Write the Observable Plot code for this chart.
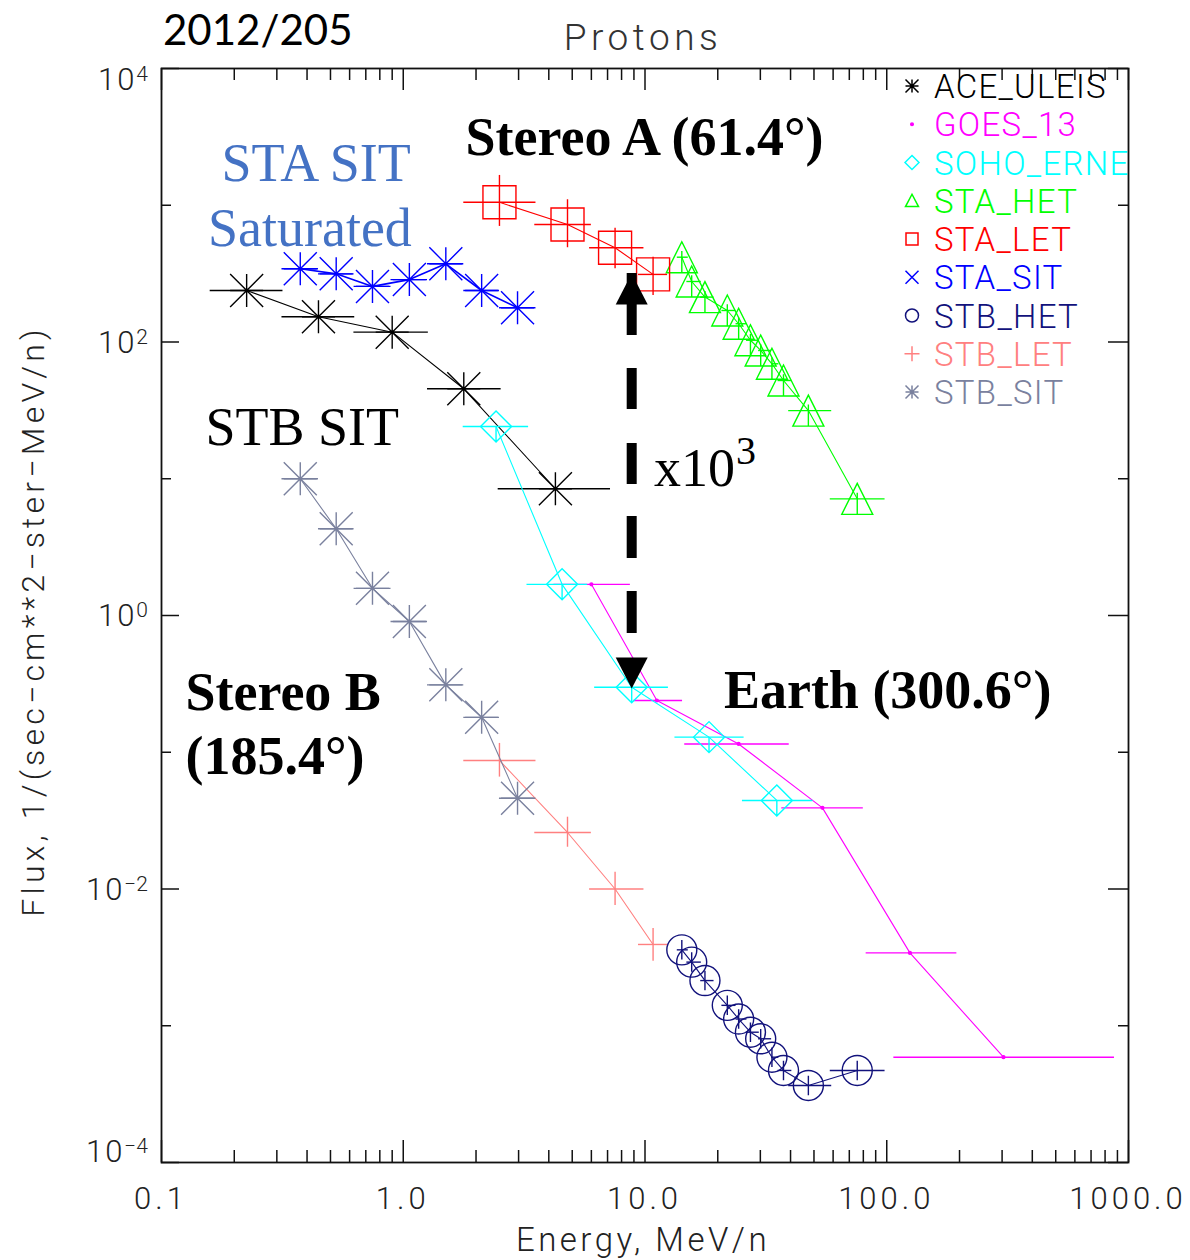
<!DOCTYPE html>
<html><head><meta charset="utf-8">
<script src="https://cdn.jsdelivr.net/npm/d3@7"></script>
<script src="https://cdn.jsdelivr.net/npm/@observablehq/plot@0.6"></script>
<style>body{margin:0;background:#fff} svg{display:block}</style>
</head><body><div id="chart"></div>
<script>
// ---------- data ----------
const seriesNames  = ["ACE_ULEIS","GOES_13","SOHO_ERNE","STA_HET","STA_LET","STA_SIT","STB_HET","STB_LET","STB_SIT"];
const seriesColors = ["#000000","#ff00ff","#00ffff","#00ff00","#ff0000","#0000ff","#12127c","#ff8080","#7a819e"];

// ACE ULEIS
const aceEnergy = [0.225, 0.446, 0.90, 1.78, 4.26];
const aceLo     = [0.159, 0.315, 0.625, 1.26, 2.47];
const aceHi     = [0.318, 0.63, 1.27, 2.54, 7.2];
const aceFlux   = [238, 153, 118, 45.5, 8.45];

// GOES 13
const goesEnergy = [6.0, 11.2, 24.4, 54.2, 124.7, 304];
const goesLo     = [4.2, 9.0, 14.6, 36.8, 82.2, 107];
const goesHi     = [8.7, 14.3, 39.5, 80, 195, 875];
const goesFlux   = [1.69, 0.239, 0.115, 0.0392, 0.00341, 0.000589];

// SOHO ERNE
const erneEnergy = [2.42, 4.54, 8.81, 18.4, 35.1];
const erneLo     = [1.77, 3.25, 6.19, 13.3, 25.3];
const erneHi     = [3.30, 5.79, 12.5, 25.7, 49.5];
const erneFlux   = [24.1, 1.69, 0.299, 0.129, 0.0444];

// STEREO HET energy bins (A and B)
const hetEnergy = [14.2, 15.6, 17.7, 21.9, 24.4, 27.3, 30.1, 33.5, 37.4, 47.4, 75.5];
const hetLo     = [13.6, 14.9, 17.0, 20.8, 23.8, 26.3, 29.5, 33.4, 35.5, 39.3, 58.4];
const hetHi     = [15.1, 17.1, 19.3, 23.8, 26.4, 29.7, 33.4, 35.8, 40.5, 59.2, 98.4];
const staHetFlux = [417, 277, 213, 170, 136, 103, 86.7, 69.3, 52.3, 31.5, 7.13];
const stbHetFlux = [0.00359, 0.00292, 0.00214, 0.00141, 0.00112, 0.000897, 0.000803, 0.000589, 0.000471, 0.000366, 0.000471];

// STEREO LET energy bins
const letEnergy = [2.50, 4.78, 7.52, 10.8];
const letLo     = [1.78, 3.5, 5.9, 9.4];
const letHi     = [3.54, 6.0, 9.9, 12.4];
const staLetFlux   = [1051, 723, 489, 312];
const staLetFluxLo = [700, 489, 343, 219];
const staLetFluxHi = [1652, 1097, 679, 417];
const stbLetFlux   = [0.0871, 0.0259, 0.0100, 0.00393];
const stbLetFluxLo = [0.0658, 0.0202, 0.00757, 0.00296];
const stbLetFluxHi = [0.116, 0.0335, 0.01327, 0.00514];

// STEREO SIT energy bins
const sitEnergy = [0.375, 0.528, 0.746, 1.06, 1.50, 2.11, 2.97];
const sitLo     = [0.315, 0.446, 0.626, 0.89, 1.26, 1.78, 2.50];
const sitHi     = [0.446, 0.626, 0.89, 1.26, 1.78, 2.50, 3.54];
const staSitFlux = [343, 315, 255, 286, 373, 238, 178];
const stbSitFlux = [10.0, 4.31, 1.58, 0.904, 0.311, 0.180, 0.0461];

// axis tick values / labels
const xLabelValues = [0.1, 1, 10, 100, 1000];
const xLabelTexts  = ["0.1", "1.0", "10.0", "100.0", "1000.0"];
const yLabelValues = [1e4, 1e2, 1, 1e-2, 1e-4];
const yLabelExps   = ["4", "2", "0", "\u22122", "\u22124"];
const yMinorValues = [1e3, 1e1, 1e-1, 1e-3];

// annotations (data coordinates)
const boldNotes  = [
  {text: "Stereo A (61.4°)", x: 1.81, y: 3130},
  {text: "Earth (300.6°)",   x: 21.2, y: 0.283},
  {text: "Stereo B",         x: 0.1256, y: 0.273},
  {text: "(185.4°)",         x: 0.1256, y: 0.0931}
];
const plainNotes = [
  {text: "STB SIT", x: 0.152, y: 23.7},
  {text: "x10",     x: 10.9,  y: 11.9}
];
const supNotes   = [{text: "3", x: 10.9, y: 11.9}];
const blueNotes  = [
  {text: "STA SIT",   x: 0.436, y: 2020},
  {text: "Saturated", x: 0.411, y: 676}
];
const arrowNote = [{x: 8.81, from: 317, to: 0.292}];

// ---------- symbols ----------
const R = s => Math.sqrt(s / Math.PI);
const symAsterisk = {draw(c, s){const r=R(s); c.moveTo(0,-r);c.lineTo(0,r);c.moveTo(-r,0);c.lineTo(r,0);c.moveTo(-r,-r);c.lineTo(r,r);c.moveTo(-r,r);c.lineTo(r,-r);}};
const symCross = {draw(c, s){const r=R(s); c.moveTo(-r,-r);c.lineTo(r,r);c.moveTo(-r,r);c.lineTo(r,-r);}};
const symPlus = {draw(c, s){const r=R(s); c.moveTo(0,-r);c.lineTo(0,r);c.moveTo(-r,0);c.lineTo(r,0);}};
const symSquare = {draw(c, s){const r=R(s); c.moveTo(-r,-r);c.lineTo(r,-r);c.lineTo(r,r);c.lineTo(-r,r);c.closePath();}};
const symDiamond = {draw(c, s){const r=R(s); c.moveTo(0,-r);c.lineTo(r,0);c.lineTo(0,r);c.lineTo(-r,0);c.closePath(); c.moveTo(0,0);c.lineTo(0,r);}};
const symDiamondL = {draw(c, s){const r=R(s); c.moveTo(0,-r);c.lineTo(r,0);c.lineTo(0,r);c.lineTo(-r,0);c.closePath();}};
const symTriangle = {draw(c, s){const r=R(s); c.moveTo(0,-r);c.lineTo(r,r);c.lineTo(-r,r);c.closePath(); c.moveTo(0,-0.4*r);c.lineTo(0,r);}};
const symTriangleL = {draw(c, s){const r=R(s); c.moveTo(0,-r);c.lineTo(r,r*0.9);c.lineTo(-r,r*0.9);c.closePath();}};
const symCircle = {draw(c, s){const r=R(s); c.moveTo(r,0);c.arc(0,0,r,0,2*Math.PI); c.moveTo(0,-0.65*r);c.lineTo(0,0.65*r);}};
const symCircleL = {draw(c, s){const r=R(s); c.moveTo(r,0);c.arc(0,0,r,0,2*Math.PI);}};
const symDot = {draw(c, s){const r=R(s); c.moveTo(r,0);c.arc(0,0,r,0,2*Math.PI);}};
const symArrowUp = {draw(c, s){c.moveTo(0,0);c.lineTo(16,31);c.lineTo(-16,31);c.closePath();}};
const symArrowDown = {draw(c, s){c.moveTo(0,0);c.lineTo(16,-31);c.lineTo(-16,-31);c.closePath();}};

function rows(energy, flux, lo, hi, fLo, fHi) {
  return energy.map((e, i) => ({energy: e, flux: flux[i], lo: lo[i], hi: hi[i],
    fLo: fLo ? fLo[i] : null, fHi: fHi ? fHi[i] : null}));
}

const series = [
  {data: rows(aceEnergy, aceFlux, aceLo, aceHi), sym: symAsterisk, r: 16.5, lsym: symAsterisk, lr: 6.5},
  {data: rows(goesEnergy, goesFlux, goesLo, goesHi), sym: symDot, r: 1.4, fill: true, lsym: symDot, lr: 1.3},
  {data: rows(erneEnergy, erneFlux, erneLo, erneHi), sym: symDiamond, r: 15.5, lsym: symDiamondL, lr: 7},
  {data: rows(hetEnergy, staHetFlux, hetLo, hetHi), sym: symTriangle, r: 15.5, lsym: symTriangleL, lr: 6.5},
  {data: rows(letEnergy, staLetFlux, letLo, letHi, staLetFluxLo, staLetFluxHi), sym: symSquare, r: 16.5, lsym: symSquare, lr: 6},
  {data: rows(sitEnergy, staSitFlux, sitLo, sitHi), sym: symAsterisk, r: 16.5, lsym: symCross, lr: 6.5, lw: 1.6},
  {data: rows(hetEnergy, stbHetFlux, hetLo, hetHi), sym: symCircle, r: 15, lsym: symCircleL, lr: 6.5},
  {data: rows(letEnergy, stbLetFlux, letLo, letHi, stbLetFluxLo, stbLetFluxHi), sym: null, lsym: symPlus, lr: 7.5},
  {data: rows(sitEnergy, stbSitFlux, sitLo, sitHi), sym: symAsterisk, r: 16.5, lsym: symAsterisk, lr: 6.5}
];

// ---------- layout ----------
const W = 1190, H = 1260;
const mL = 161, mR = 62, mT = 68, mB = 98;
const iw = W - mL - mR, ih = H - mT - mB;
const HF = "Roboto, 'DejaVu Sans', sans-serif";
const SERIF = "'Liberation Serif', 'DejaVu Serif', serif";

const xMinor = d3.range(-1, 3).flatMap(p => d3.range(2, 10).map(k => k * 10 ** p));

const marks = [];
series.forEach((s, i) => {
  const col = seriesColors[i];
  marks.push(Plot.line(s.data, {x: "energy", y: "flux", stroke: col, strokeWidth: s.lw || 1.1}));
  marks.push(Plot.ruleY(s.data, {y: "flux", x1: "lo", x2: "hi", stroke: col, strokeWidth: 1.4}));
  if (s.data[0].fLo != null) marks.push(Plot.ruleX(s.data, {x: "energy", y1: "fLo", y2: "fHi", stroke: col, strokeWidth: 1.4}));
  if (s.sym) marks.push(Plot.dot(s.data, {x: "energy", y: "flux", symbol: s.sym, r: s.r,
    stroke: col, strokeWidth: 1.4, fill: s.fill ? col : "none"}));
});

// arrow (x10^3)
marks.push(Plot.ruleX(arrowNote, {x: "x", y1: "from", y2: "to", stroke: "black", strokeWidth: 10,
  strokeDasharray: "62,33,41,34,41,32,42,33,42,200"}));
marks.push(Plot.dot(arrowNote, {x: "x", y: "from", symbol: symArrowUp, r: 5, fill: "black", stroke: "none"}));
marks.push(Plot.dot(arrowNote, {x: "x", y: "to", symbol: symArrowDown, r: 5, fill: "black", stroke: "none"}));

// annotations
marks.push(Plot.text(boldNotes, {x: "x", y: "y", text: "text", textAnchor: "start", fontFamily: SERIF, fontWeight: "bold", fontSize: 54, fill: "black"}));
marks.push(Plot.text(plainNotes, {x: "x", y: "y", text: "text", textAnchor: "start", fontFamily: SERIF, fontSize: 54, fill: "black"}));
marks.push(Plot.text(supNotes, {x: "x", y: "y", text: "text", textAnchor: "start", fontFamily: SERIF, fontSize: 40, fill: "black", dx: 82, dy: -17}));
marks.push(Plot.text(blueNotes, {x: "x", y: "y", text: "text", textAnchor: "middle", fontFamily: SERIF, fontSize: 54, fill: "#4472c4"}));

// ticks (inward)
marks.push(Plot.tickX(xLabelValues, {x: d => d, insetTop: ih - 22, stroke: "#111", strokeWidth: 1.5}));
marks.push(Plot.tickX(xMinor, {x: d => d, insetTop: ih - 12, stroke: "#111", strokeWidth: 1.5}));
marks.push(Plot.tickX(xLabelValues, {x: d => d, insetBottom: ih - 22, stroke: "#111", strokeWidth: 1.5}));
marks.push(Plot.tickX(xMinor, {x: d => d, insetBottom: ih - 12, stroke: "#111", strokeWidth: 1.5}));
marks.push(Plot.tickY(yLabelValues, {y: d => d, insetRight: iw - 18, stroke: "#111", strokeWidth: 1.5}));
marks.push(Plot.tickY(yMinorValues, {y: d => d, insetRight: iw - 10, stroke: "#111", strokeWidth: 1.5}));
marks.push(Plot.tickY(yLabelValues, {y: d => d, insetLeft: iw - 20, stroke: "#111", strokeWidth: 1.5}));
marks.push(Plot.tickY(yMinorValues, {y: d => d, insetLeft: iw - 10, stroke: "#111", strokeWidth: 1.5}));
marks.push(Plot.frame({stroke: "#111", strokeWidth: 1.8}));

const plot = Plot.plot({
  width: W, height: H,
  marginLeft: mL, marginRight: mR, marginTop: mT, marginBottom: mB,
  x: {type: "log", domain: [0.1, 1000], axis: null},
  y: {type: "log", domain: [1e-4, 1e4], axis: null},
  style: {background: "white", overflow: "visible"},
  marks
});
document.getElementById("chart").append(plot);

// ---------- axis labels, titles, legend ----------
const svg = d3.select(plot);
const xs = plot.scale("x"), ys = plot.scale("y");
const g = svg.append("g").attr("text-anchor", "start");

// title items
g.append("text").attr("x", 163).attr("y", 45).attr("text-anchor", "start").attr("font-family", "Lato, 'Open Sans', sans-serif")
  .attr("font-size", 42).attr("fill", "#000").text("2012/205");
g.append("text").attr("x", 643).attr("y", 50).attr("text-anchor", "middle").attr("font-family", HF)
  .attr("font-weight", 300).attr("font-size", 37).attr("letter-spacing", 4.5).attr("fill", "#333").text("Protons");

// x tick labels
xLabelValues.forEach((v, i) => {
  g.append("text").attr("x", xs.apply(v)).attr("y", 1209).attr("text-anchor", "middle")
    .attr("font-family", HF).attr("font-weight", 300).attr("font-size", 31).attr("letter-spacing", 4)
    .attr("fill", "#222").text(xLabelTexts[i]);
});
g.append("text").attr("x", 643).attr("y", 1251).attr("text-anchor", "middle").attr("font-family", HF)
  .attr("font-weight", 300).attr("font-size", 33).attr("letter-spacing", 3.5).attr("fill", "#222").text("Energy, MeV/n");

// y tick labels
yLabelValues.forEach((v, i) => {
  const cy = Math.max(mT + 11, Math.min(H - mB - 11, ys.apply(v)));
  const t = g.append("text").attr("x", 148).attr("y", cy + 11).attr("text-anchor", "end")
    .attr("font-family", HF).attr("font-weight", 300).attr("fill", "#222");
  t.append("tspan").attr("font-size", 31).attr("letter-spacing", 2).text("10");
  t.append("tspan").attr("font-size", 21).attr("dy", -9).text(yLabelExps[i]);
});
g.append("text").attr("transform", `translate(33,${(mT + H - mB) / 2 + 6}) rotate(-90)`)
  .attr("text-anchor", "middle").attr("dominant-baseline", "central").attr("font-family", HF)
  .attr("font-weight", 300).attr("font-size", 32).attr("letter-spacing", 4.2).attr("fill", "#222")
  .text("Flux, 1/(sec\u2212cm**2\u2212ster\u2212MeV/n)");

// legend
seriesNames.forEach((name, i) => {
  const cy = 86 + i * 38.25;
  const s = series[i];
  g.append("path").attr("transform", `translate(912,${cy})`)
    .attr("d", d3.symbol(s.lsym, Math.PI * s.lr * s.lr)())
    .attr("fill", s.fill ? seriesColors[i] : "none").attr("stroke", seriesColors[i]).attr("stroke-width", 1.5);
  g.append("text").attr("x", 934).attr("y", cy + 12).attr("text-anchor", "start").attr("font-family", HF).attr("font-weight", 300)
    .attr("font-size", 33).attr("letter-spacing", 1.3).attr("fill", seriesColors[i]).text(name);
});
</script>
</body></html>
